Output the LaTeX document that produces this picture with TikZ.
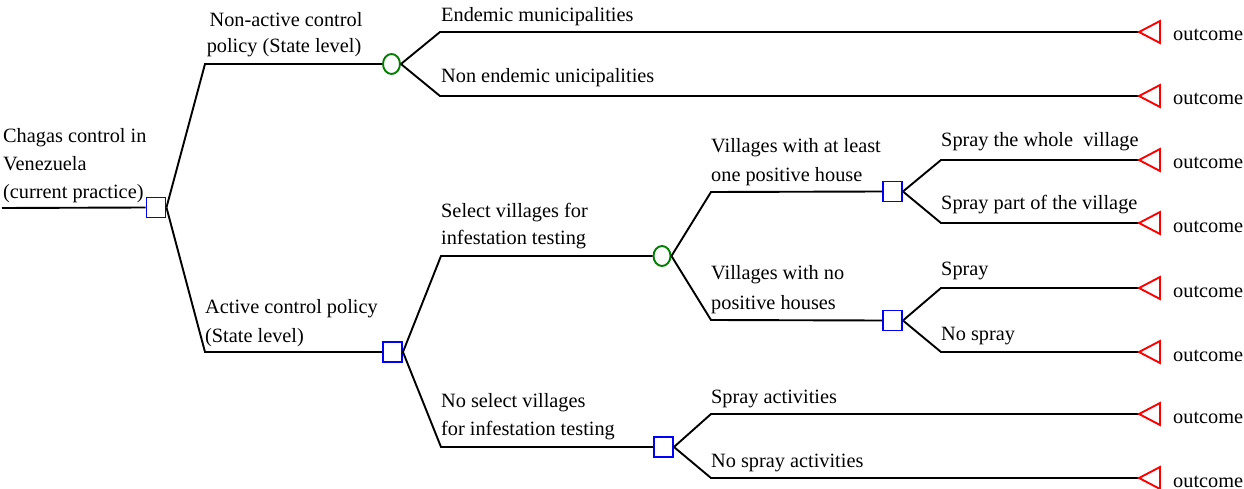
\documentclass[tikz,border=0pt]{standalone}
\usepackage{fontspec}
\setmainfont{Liberation Serif}
\usetikzlibrary{shapes.geometric}
\begin{document}
\begin{tikzpicture}[x=1pt,y=-1pt,
  lbl/.style={anchor=base west,inner sep=0,font=\rmfamily\fontsize{20.3}{24}\selectfont},
  lblc/.style={anchor=base,inner sep=0,font=\rmfamily\fontsize{20.3}{24}\selectfont},
  dec/.style={draw=blue,rectangle,minimum width=19pt,minimum height=20pt,inner sep=0,line width=1.9pt},
  chn/.style={draw=green!50!black,ellipse,minimum width=17pt,minimum height=20pt,inner sep=0,line width=1.9pt},
  edge/.style={line width=1.9pt,black},
  term/.style={draw=red,line width=1.9pt,line join=miter}
]
\path[use as bounding box,fill=white] (0,0) rectangle (1244,489);

% decision / chance nodes
\node[dec] (d0) at (156,207.5) {};
\node[chn] (c1) at (391.5,64) {};
\node[dec] (d1) at (392.5,352) {};
\node[chn] (c2) at (662,256) {};
\node[dec] (d2) at (663.5,447) {};
\node[dec] (d3) at (892.5,191.5) {};
\node[dec] (d4) at (892.5,320.5) {};

% corner coordinates
\coordinate (r0) at (2,208);
\coordinate (k1) at (205,64);
\coordinate (k2) at (205,352);
\coordinate (k3) at (440,32);
\coordinate (k4) at (440,96);
\coordinate (k5) at (441,256);
\coordinate (k6) at (441,447);
\coordinate (k7) at (711,192);
\coordinate (k8) at (711,320);
\coordinate (k9) at (711,414);
\coordinate (k10) at (711,478);
\coordinate (k11) at (941,160);
\coordinate (k12) at (941,223);
\coordinate (k13) at (941,288);
\coordinate (k14) at (941,352);

% terminal apexes
\coordinate (t1) at (1139,32);
\coordinate (t2) at (1139,96);
\coordinate (t3) at (1139,160);
\coordinate (t4) at (1139,223);
\coordinate (t5) at (1139,288);
\coordinate (t6) at (1139,352);
\coordinate (t7) at (1139,414);
\coordinate (t8) at (1139,478);

% connectors
\draw[edge] (r0) -- (d0.west);
\draw[edge] (d0.east) -- (k1) -- (c1.west);
\draw[edge] (d0.east) -- (k2) -- (d1.west);
\draw[edge] (c1.east) -- (k3) -- (t1);
\draw[edge] (c1.east) -- (k4) -- (t2);
\draw[edge] (d1.east) -- (k5) -- (c2.west);
\draw[edge] (d1.east) -- (k6) -- (d2.west);
\draw[edge] (c2.east) -- (k7) -- (d3.west);
\draw[edge] (c2.east) -- (k8) -- (d4.west);
\draw[edge] (d3.east) -- (k11) -- (t3);
\draw[edge] (d3.east) -- (k12) -- (t4);
\draw[edge] (d4.east) -- (k13) -- (t5);
\draw[edge] (d4.east) -- (k14) -- (t6);
\draw[edge] (d2.east) -- (k9) -- (t7);
\draw[edge] (d2.east) -- (k10) -- (t8);

% terminal triangles
\foreach \t in {t1,t2,t3,t4,t5,t6,t7,t8}{
  \draw[term] (\t) -- ++(21,-11) -- ++(0,22) -- cycle;
}

% outcome labels
\node[lbl] (o1) at (1173,41) {outcome};
\node[lbl] (o2) at (1173,105) {outcome};
\node[lbl] (o3) at (1173,169) {outcome};
\node[lbl] (o4) at (1173,232) {outcome};
\node[lbl] (o5) at (1173,297) {outcome};
\node[lbl] (o6) at (1173,361) {outcome};
\node[lbl] (o7) at (1173,423) {outcome};
\node[lbl] (o8) at (1173,487) {outcome};

% branch labels
\node[lbl] (a1) at (3,143) {Chagas control in};
\node[lbl] (a2) at (3,171) {Venezuela};
\node[lbl] (a3) at (3,198) {(current practice)};

\node[lblc] (b1) at (286,27) {Non-active control};
\node[lblc] (b2) at (284,53) {policy (State level)};

\node[lbl] (b3) at (205,313) {Active control policy};
\node[lbl] (b4) at (205,342) {(State level)};

\node[lbl] (e1) at (441,22) {Endemic municipalities};
\node[lbl] (e2) at (441,83) {Non endemic unicipalities};

\node[lbl] (s1) at (441,217) {Select villages for};
\node[lbl] (s2) at (441,244) {infestation testing};
\node[lbl] (s3) at (441,407) {No select villages};
\node[lbl] (s4) at (441,435) {for infestation testing};

\node[lbl] (v1) at (711,153) {Villages with at least};
\node[lbl] (v2) at (711,182) {one positive house};
\node[lbl] (v3) at (711,279) {Villages with no};
\node[lbl] (v4) at (711,309) {positive houses};
\node[lbl] (v5) at (711,403) {Spray activities};
\node[lbl] (v6) at (711,467) {No spray activities};

\node[lbl] (w1) at (941,147) {Spray the whole\ \ village};
\node[lbl] (w2) at (941,210) {Spray part of the village};
\node[lbl] (w3) at (941,275) {Spray};
\node[lbl] (w4) at (941,340) {No spray};
\end{tikzpicture}
\end{document}
